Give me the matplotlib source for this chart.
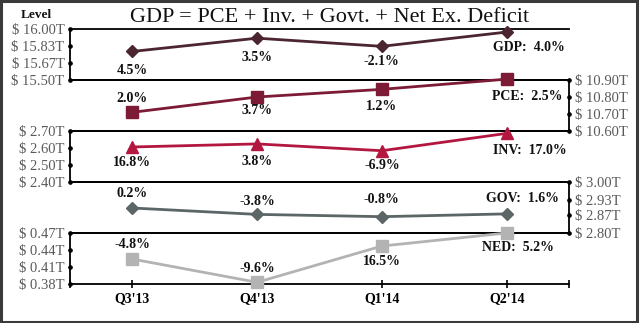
import matplotlib
matplotlib.use("Agg")
import matplotlib.pyplot as plt
from matplotlib.patches import Rectangle

# ---------------- data ----------------
quarters = ["Q3'13", "Q4'13", "Q1'14", "Q2'14"]
series_names = ["GDP", "PCE", "INV", "GOV", "NED"]
gdp = [15.78, 15.91, 15.83, 15.97]
pce = [10.71, 10.80, 10.845, 10.905]
inv = [2.606, 2.624, 2.584, 2.686]
gov = [2.898, 2.873, 2.864, 2.875]
ned = [0.424, 0.383, 0.447, 0.470]
gdp_pct = ["4.5%", "3.5%", "-2.1%", "4.0%"]
pce_pct = ["2.0%", "3.7%", "1.2%", "2.5%"]
inv_pct = ["16.8%", "3.8%", "-6.9%", "17.0%"]
gov_pct = ["0.2%", "-3.8%", "-0.8%", "1.6%"]
ned_pct = ["-4.8%", "-9.6%", "16.5%", "5.2%"]
gdp_ticks = [15.50, 15.67, 15.83, 16.00]
pce_ticks = [10.60, 10.70, 10.80, 10.90]
inv_ticks = [2.40, 2.50, 2.60, 2.70]
gov_ticks = [2.80, 2.87, 2.93, 3.00]
ned_ticks = [0.38, 0.41, 0.44, 0.47]

# ---------------- style ----------------
values = [gdp, pce, inv, gov, ned]
pcts = [gdp_pct, pce_pct, inv_pct, gov_pct, ned_pct]
ticks = [gdp_ticks, pce_ticks, inv_ticks, gov_ticks, ned_ticks]
colors = ["#4b2530", "#7d1a36", "#b3173f", "#5c6666", "#b3b3b3"]
markers = ["D", "s", "^", "D", "s"]
msizes = [6.5, 8.5, 8.5, 6.5, 8.5]
sides = ["left", "right", "left", "right", "left"]
# label offsets in pixels (dx, dy), dy positive = up
offsets = [
    [(0, -19), (0, -19), (0, -15), (22, -15)],
    [(0, 13.5), (0, -14), (0, -17), (21, -17.5)],
    [(0, -15.5), (0, -17.5), (0, -15), (23, -17)],
    [(0, 14.5), (0, 13), (0, 17.5), (15.5, 15.5)],
    [(0, 14.5), (0, 14), (0, -15.5), (11.5, -15)],
]

W, H = 640, 323
fig = plt.figure(figsize=(6.4, 3.23), dpi=100)
fig.patch.set_facecolor("white")
serif = ["Liberation Serif", "DejaVu Serif"]

left_px, right_px = 70, 569
tops = [29, 80, 131, 182, 233]
ph = 51
x = list(range(len(quarters)))

axes = []
for i in range(5):
    b = 1 - (tops[i] + ph) / H
    ax = fig.add_axes([left_px / W, b, (right_px - left_px) / W, ph / H])
    ax.patch.set_visible(False)
    ax.set_xlim(-0.5, 3.5)
    ax.set_ylim(ticks[i][0], ticks[i][-1])
    for s in ["top", "bottom", "left", "right"]:
        ax.spines[s].set_visible(False)
    ax.spines["top"].set_visible(True)
    ax.spines["bottom"].set_visible(True)
    ax.spines[sides[i]].set_visible(True)
    for s in ["top", "bottom", sides[i]]:
        ax.spines[s].set_linewidth(1.3)
        ax.spines[s].set_color("black")
    ax.set_yticks(ticks[i])
    ax.set_yticklabels(["$ %.2fT" % t for t in ticks[i]], fontfamily=serif,
                       fontsize=10.5, color="#5a5a5a")
    if sides[i] == "right":
        ax.yaxis.tick_right()
    ax.tick_params(axis="y", length=0, pad=4)
    for t in ax.yaxis.get_major_ticks():
        for tl in (t.tick1line, t.tick2line):
            tl.set_marker("o")
            tl.set_markersize(2.5)
            tl.set_color("black")
    if i < 4:
        ax.set_xticks([])
    else:
        ax.set_xticks(x)
        ax.set_xticklabels(quarters, fontfamily=serif, fontsize=10,
                           fontweight="bold")
        ax.set_xticks([-0.5, 3.5], minor=True)
        ax.tick_params(axis="x", which="both", direction="inout", length=6,
                       width=1.2, pad=3)
    ax.plot(x, values[i], color=colors[i], lw=2.0, marker=markers[i],
            ms=msizes[i], clip_on=False, zorder=3)
    for j, (xv, yv) in enumerate(zip(x, values[i])):
        lab = pcts[i][j] if j < 3 else "%s:  %s" % (series_names[i], pcts[i][j])
        dx, dy = offsets[i][j]
        ax.annotate(lab, (xv, yv), xytext=(dx, dy), textcoords="offset pixels",
                    ha="center", va="center", fontfamily=serif,
                    fontsize=10, fontweight="bold", color="#111111",
                    annotation_clip=False, zorder=4)
    axes.append(ax)

fig.text(330 / W, 1 - 17.5 / H, "GDP = PCE + Inv. + Govt. + Net Ex. Deficit",
         ha="center", va="center", fontfamily=serif, fontsize=16,
         color="#111111")
fig.text(36 / W, 1 - 15 / H, "Level", ha="center", va="center",
         fontfamily=serif, fontsize=9.5, fontweight="bold", color="#111111")

fig.patches.append(Rectangle((0.002, 0.003), 0.994, 0.994,
                             transform=fig.transFigure, fill=False,
                             edgecolor="#3a3a3a", lw=2.2))

fig.savefig("out.png", dpi=100)
